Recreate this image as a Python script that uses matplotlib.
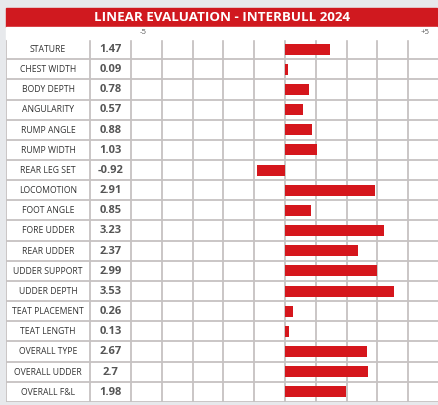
import matplotlib.pyplot as plt
from matplotlib.patches import Rectangle

traits = ["STATURE", "CHEST WIDTH", "BODY DEPTH", "ANGULARITY", "RUMP ANGLE",
          "RUMP WIDTH", "REAR LEG SET", "LOCOMOTION", "FOOT ANGLE", "FORE UDDER",
          "REAR UDDER", "UDDER SUPPORT", "UDDER DEPTH", "TEAT PLACEMENT",
          "TEAT LENGTH", "OVERALL TYPE", "OVERALL UDDER", "OVERALL F&L"]
values = [1.47, 0.09, 0.78, 0.57, 0.88, 1.03, -0.92, 2.91, 0.85, 3.23,
          2.37, 2.99, 3.53, 0.26, 0.13, 2.67, 2.7, 1.98]
scale_labels = ["-5", "+5"]
title = "LINEAR EVALUATION - INTERBULL 2024"

RED = "#d5161c"
GRID = "#c6c2c2"
W, H = 438, 405

fig = plt.figure(figsize=(W / 100, H / 100), dpi=100, facecolor="#e7e9ec")

# pixel helpers
def fx(px):
    return px / W

def fy(py):
    return 1 - py / H

# title band and the white strip with the scale labels
fig.patches.append(Rectangle((fx(6), fy(27)), fx(437) - fx(6), fy(8) - fy(27),
                             transform=fig.transFigure, color="#d0191f", zorder=0))
fig.patches.append(Rectangle((fx(6), fy(39)), fx(437) - fx(6), fy(27) - fy(39),
                             transform=fig.transFigure, color="white", zorder=0))
fig.text(fx(222), fy(17.5), title, color="white", fontsize=9.6, fontweight="bold",
         family="Open Sans", ha="center", va="center")
fig.text(fx(143), fy(33), scale_labels[0], color="#555555", fontsize=5.6,
         family="Open Sans", ha="center", va="center")
fig.text(fx(425), fy(33), scale_labels[1], color="#555555", fontsize=5.6,
         family="Open Sans", ha="center", va="center")

# table axes: one unit per grid column, zero at x=285px
unit = 30.8
x_left = -5 - (131 - 6) / unit
x_split = -5 - (131 - 90) / unit
ax = fig.add_axes([fx(6), fy(402), fx(439) - fx(6), fy(39) - fy(402)])
ax.set_facecolor("white")
ax.set_xlim(x_left, 5)
ax.set_ylim(len(traits), 0)
ax.axis("off")
ax.add_patch(Rectangle((x_left, 0), 5 - x_left, len(traits), color="white", zorder=0))

for i in range(len(traits) + 1):
    ax.plot([x_left, 5], [i, i], color=GRID, lw=1.3, zorder=1, solid_capstyle="butt")
for xv in [x_left, x_split] + list(range(-5, 6)):
    ax.plot([xv, xv], [0, len(traits)], color=GRID, lw=1.3, zorder=1, solid_capstyle="butt")

ax.barh([i + 0.5 for i in range(len(traits))], values, height=0.54,
        color=RED, zorder=2)

for i, (name, v) in enumerate(zip(traits, values)):
    ax.text((x_left + x_split) / 2, i + 0.52, name, fontsize=6.2, color="#333333",
            family="Open Sans", ha="center", va="center")
    ax.text((x_split - 5) / 2, i + 0.52, f"{v:g}", fontsize=8, color="#555555",
            fontweight="bold", family="Open Sans", ha="center", va="center")

fig.savefig("out.png", dpi=100, facecolor=fig.get_facecolor())
